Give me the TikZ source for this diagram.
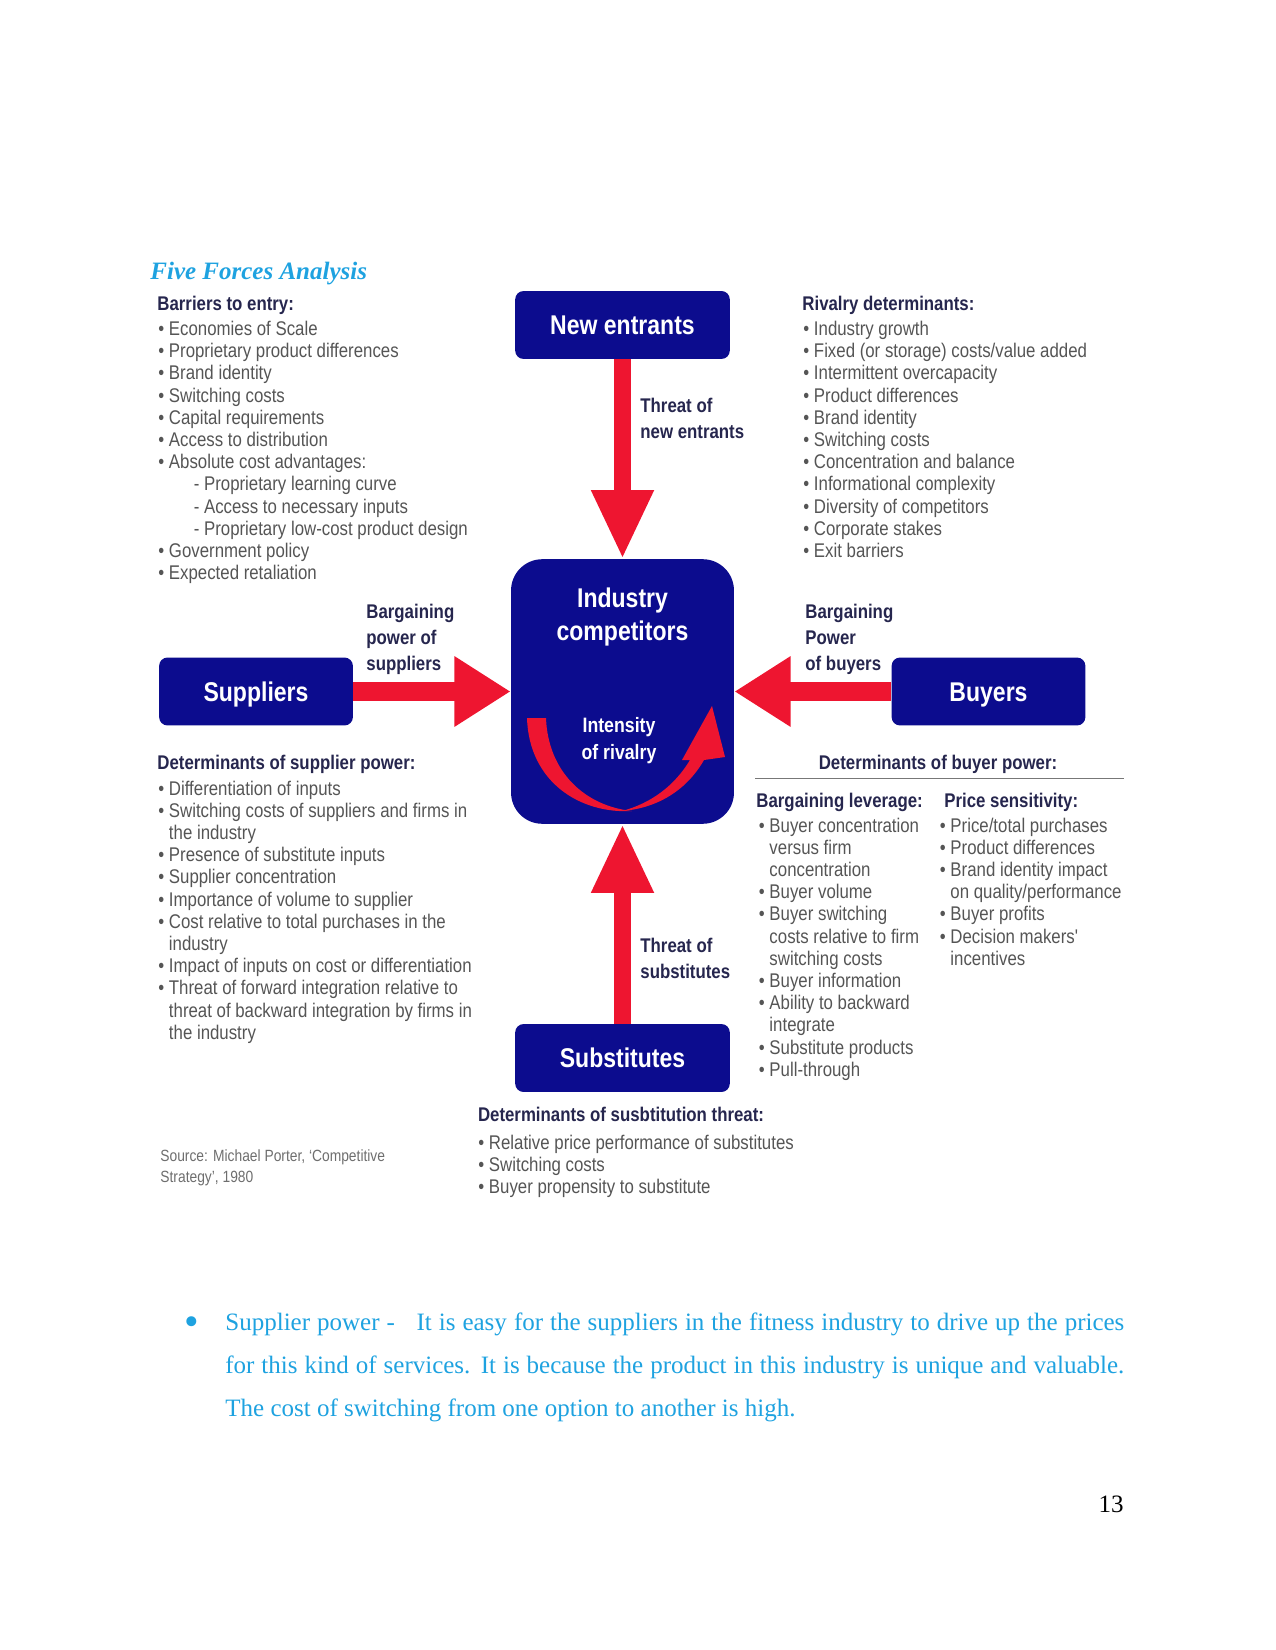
\documentclass[tikz,border=0pt]{standalone}
\usepackage{fontspec}
\setmainfont{Liberation Serif}
\newfontfamily\arialn[FakeStretch=0.85]{Liberation Sans}
\usetikzlibrary{positioning,arrows.meta}
\definecolor{navy}{HTML}{0C0C8E}
\definecolor{accent}{HTML}{EE1530}
\definecolor{ink}{HTML}{26264E}
\definecolor{muted}{HTML}{555555}
\definecolor{sky}{HTML}{1EA2E0}
\newcommand\ind{\phantom{•\ }}
\newcommand\subi{\hspace*{17pt}}
\tikzset{force/.style={fill=navy, draw=none, text=white, rounded corners=4pt, inner sep=0pt,
    minimum width=103pt, minimum height=32.6pt, text height=9.3pt, text depth=0pt,
    font=\arialn\bfseries\fontsize{13}{15.8}\selectfont}}

\begin{document}
\begin{tikzpicture}[x=0.48pt, y=-0.48pt,
    item/.style={anchor=base west, inner sep=0pt, text=muted, font=\arialn\fontsize{9.5}{10.6}\selectfont},
    hdr/.style={anchor=base west, inner sep=0pt, text=ink, font=\arialn\bfseries\fontsize{9.5}{10.6}\selectfont},
    lbl/.style={anchor=north west, inner sep=0pt, align=left, text=ink, font=\arialn\bfseries\fontsize{9.5}{12.4}\selectfont},
    vpush/.style={draw=accent, line width=7.7pt, -{Triangle[width=28pt,length=33pt]}},
    hpush/.style={draw=accent, line width=9.5pt, -{Triangle[width=32pt,length=27pt]}}]
  \useasboundingbox (0,0) rectangle (1275,1650);
  \node[anchor=base west, inner sep=0pt, text=sky, font=\fontsize{12}{14}\selectfont\bfseries\itshape] (title) at (150,280) {Five Forces Analysis};
  % forces
  \node[force] (new) at (622.5,325) {New entrants};
  \node[force, rounded corners=15pt, minimum width=107pt, minimum height=127pt] (ind) at (622.5,691.5) {};
  \node[force, minimum width=93pt] (sup) at (256,691.5) {Suppliers};
  \node[force, minimum width=93pt] (buy) at (988.5,691.5) {Buyers};
  \node[force] (sub) at (622.5,1058) {Substitutes};
  \draw[vpush] (new) -- (ind);
  \draw[vpush] (sub) -- (ind);
  \draw[hpush] (sup) -- (ind);
  \draw[hpush] (buy) -- (ind);
  % rivalry arrow inside the box
  \fill[accent] (527,718) -- (546,718) .. controls (548,772) and (585,806) .. (632,811)
    .. controls (580,814) and (529,782) .. (527,718) -- cycle;
  \fill[accent] (622,811) .. controls (660,808) and (688,788) .. (704,760) -- (725,757) -- (712,706)
    -- (682,760) -- (690,760) .. controls (675,785) and (652,803) .. (622,811) -- cycle;
  \node[anchor=north, inner sep=0pt, align=center, text=white, font=\arialn\bfseries\fontsize{13}{15.8}\selectfont] (indt) at (622.5,584) {\strut Industry\\competitors};
  \node[anchor=north, inner sep=0pt, align=center, text=white, font=\arialn\bfseries\fontsize{10}{13}\selectfont] (rivt) at (619,713) {\strut Intensity\\of rivalry};
  % arrow labels
  \node[lbl] (thnew) at (640,394) {\strut Threat of\\new entrants};
  \node[lbl] (thsub) at (640,934) {\strut Threat of\\substitutes};
  \node[lbl] (bpsup) at (366,600) {\strut Bargaining\\power of\\suppliers};
  \node[lbl] (bpbuy) at (805,600) {\strut Bargaining\\Power\\of buyers};
  % barriers to entry
  \node[hdr] (barh) at (157,311) {Barriers to entry:};
  \foreach \t [count=\i from 0] in {• Economies of Scale, • Proprietary product differences,
      • Brand identity, • Switching costs, • Capital requirements, • Access to distribution,
      • Absolute cost advantages:, \subi- Proprietary learning curve, \subi- Access to necessary inputs,
      \subi- Proprietary low-cost product design, • Government policy, • Expected retaliation}
    \node[item] (bar\i) at (158,335.6+22.2*\i) {\t};
  % rivalry determinants
  \node[hdr] (rivh) at (802,311) {Rivalry determinants:};
  \foreach \t [count=\i from 0] in {• Industry growth, • Fixed (or storage) costs/value added,
      • Intermittent overcapacity, • Product differences, • Brand identity, • Switching costs,
      • Concentration and balance, • Informational complexity, • Diversity of competitors,
      • Corporate stakes, • Exit barriers}
    \node[item] (riv\i) at (803,335.6+22.2*\i) {\t};
  % supplier power
  \node[hdr] (suph) at (157,769) {Determinants of supplier power:};
  \foreach \t [count=\i from 0] in {• Differentiation of inputs, • Switching costs of suppliers and firms in,
      \ind the industry, • Presence of substitute inputs, • Supplier concentration,
      • Importance of volume to supplier, • Cost relative to total purchases in the, \ind industry,
      • Impact of inputs on cost or differentiation, • Threat of forward integration relative to,
      \ind threat of backward integration by firms in, \ind the industry}
    \node[item] (sp\i) at (158,795+22.2*\i) {\t};
  % buyer power
  \node[hdr, anchor=base] (buyh) at (938,769) {Determinants of buyer power:};
  \draw[muted!80, line width=0.6pt] (755,778.5) -- (1124,778.5);
  \node[hdr] (levh) at (756,807) {Bargaining leverage:};
  \node[hdr] (prih) at (944,807) {Price sensitivity:};
  \foreach \t [count=\i from 0] in {• Buyer concentration, \ind versus firm, \ind concentration,
      • Buyer volume, • Buyer switching, \ind costs relative to firm, \ind switching costs,
      • Buyer information, • Ability to backward, \ind integrate, • Substitute products, • Pull-through}
    \node[item] (lev\i) at (758.5,832+22.2*\i) {\t};
  \foreach \t [count=\i from 0] in {• Price/total purchases, • Product differences, • Brand identity impact,
      \ind on quality/performance, • Buyer profits, • Decision makers', \ind incentives}
    \node[item] (pri\i) at (939.5,832+22.2*\i) {\t};
  % substitution threat
  \node[hdr] (subh) at (477.6,1121.5) {Determinants of susbtitution threat:};
  \foreach \t [count=\i from 0] in {• Relative price performance of substitutes, • Switching costs,
      • Buyer propensity to substitute}
    \node[item] (st\i) at (478,1149+22.2*\i) {\t};
  % source
  \node[item, text=muted!85, font=\arialn\fontsize{7.8}{9}\selectfont] (src1) at (160,1161) {Source: Michael Porter, ‘Competitive};
  \node[item, text=muted!85, font=\arialn\fontsize{7.8}{9}\selectfont] (src2) at (160,1182) {Strategy’, 1980};
  % body text
  \node[anchor=center, inner sep=0pt, text=sky, font=\fontsize{20}{22}\selectfont] (dot) at (191.5,1326) {•};
  \node[anchor=north west, inner sep=0pt, text width=431.5pt, align=justify, text=sky,
      font=\fontsize{12}{20.7}\selectfont] (body) at (225,1299.8)
    {\noindent\strut Supplier power -\hspace{7pt} It is easy for the suppliers in the fitness industry to drive up the prices\linebreak
     for this kind of services. It is because the product in this industry is unique and valuable.\linebreak
     The cost of switching from one option to another is high.};
  \node[anchor=base east, inner sep=0pt, font=\fontsize{12}{14}\selectfont] (pgno) at (1124,1512) {13};
\end{tikzpicture}
\end{document}
